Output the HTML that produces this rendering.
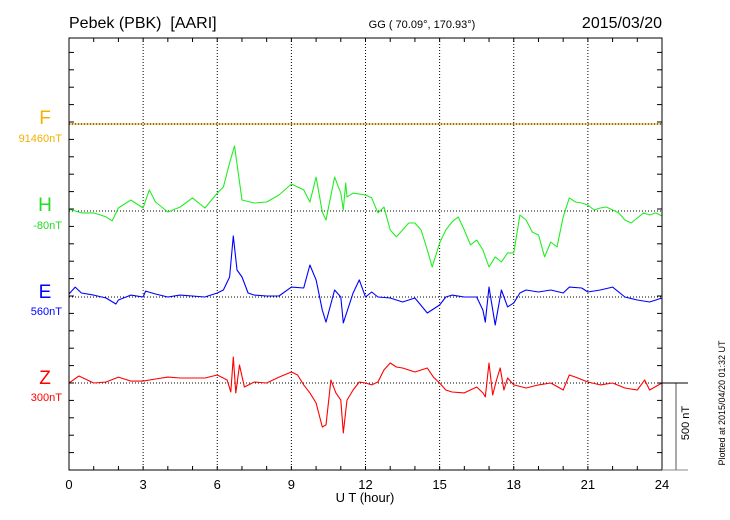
<!DOCTYPE html>
<html><head><meta charset="utf-8"><style>
body{margin:0;background:#fff;}
svg{display:block;font-family:"Liberation Sans",sans-serif;}
</style></head><body>
<svg id="chart" width="730" height="520" viewBox="0 0 730 520" xmlns="http://www.w3.org/2000/svg">
<text x="69" y="28" font-size="16" style="white-space:pre">Pebek (PBK)  [AARI]</text>
<text x="422" y="28" font-size="11" text-anchor="middle">GG ( 70.09°, 170.93°)</text>
<text x="662" y="28" font-size="16" text-anchor="end">2015/03/20</text>
<g id="grid"></g>
<g id="series"></g>
<rect x="69" y="38" width="593" height="432" fill="none" stroke="#000" stroke-width="1"/>
<g id="ticks"></g>
<text x="365" y="502" font-size="13" text-anchor="middle">U T (hour)</text>
<line x1="676" y1="383" x2="676" y2="470" stroke="#555"/>
<line x1="662" y1="383" x2="688" y2="383" stroke="#000"/>
<line x1="662" y1="470" x2="688" y2="470" stroke="#888"/>
<text x="693" y="427" font-size="11" text-anchor="middle" transform="rotate(-90 689 427)">500 nT</text>
<text x="725" y="403" font-size="9" text-anchor="middle" transform="rotate(-90 725 403)">Plotted at 2015/04/20 01:32 UT</text>
<text x="45" y="124" font-size="19" fill="#f5b000" text-anchor="middle">F</text>
<text x="62" y="142" font-size="11" fill="#f5b000" text-anchor="end">91460nT</text>
<text x="45" y="211" font-size="19" fill="#22dd22" text-anchor="middle">H</text>
<text x="62" y="229" font-size="11" fill="#22dd22" text-anchor="end">-80nT</text>
<text x="45" y="298" font-size="19" fill="#0000ff" text-anchor="middle">E</text>
<text x="62" y="315" font-size="11" fill="#0000ff" text-anchor="end">560nT</text>
<text x="45" y="384" font-size="19" fill="#ff0000" text-anchor="middle">Z</text>
<text x="62" y="401" font-size="11" fill="#ff0000" text-anchor="end">300nT</text>
</svg>
<script>
const xTickLabels = ["0","3","6","9","12","15","18","21","24"];
const hHours = [0,0.5,1,1.5,1.75,2,2.5,3,3.25,3.5,4,4.5,5,5.5,6,6.25,6.5,6.7,7,7.5,8,8.5,9,9.5,9.75,10,10.25,10.4,10.75,11,11.1,11.2,11.25,11.5,12,12.25,12.5,12.75,13,13.25,13.5,13.75,14,14.25,14.5,14.7,15,15.25,15.5,15.75,16,16.25,16.5,16.75,17,17.25,17.5,17.75,18,18.25,18.5,18.75,19,19.25,19.5,19.75,20,20.25,20.5,20.75,21,21.25,21.5,21.75,22,22.25,22.5,22.75,23,23.25,23.5,23.75,24];
const hValues = [11,-11,-11,-34,-57,17,63,17,121,52,-6,23,75,17,103,138,276,374,63,46,52,92,155,121,52,195,-6,-52,195,103,6,161,80,103,92,75,-11,23,-109,-149,-109,-69,-69,-109,-224,-322,-184,-109,-63,-34,-109,-195,-167,-224,-322,-264,-293,-241,-241,-23,-52,-121,-138,-264,-178,-207,-34,75,52,46,34,6,17,23,6,-11,-52,-69,-40,-11,-23,-11,-29];
const eHours = [0,0.25,0.5,1,1.5,1.9,2,2.5,3,3.1,3.5,4,4.5,5,5.5,6,6.25,6.5,6.65,6.8,7,7.25,7.5,8,8.5,9,9.5,9.75,10,10.25,10.4,10.75,11,11.1,11.5,11.75,12,12.25,12.5,13,13.5,14,14.5,15,15.25,15.5,16,16.5,16.75,16.85,17,17.25,17.5,17.75,18,18.25,18.5,19,19.5,20,20.25,20.75,21,21.5,22,22.5,23,23.5,24];
const eValues = [17,57,23,11,-6,-40,-17,11,0,34,17,0,11,6,0,23,40,115,351,155,115,23,11,6,6,57,52,184,98,-75,-144,40,0,-149,23,98,0,29,0,-6,-29,-6,-92,-46,0,11,0,0,-75,-144,57,-161,40,-57,-34,23,40,29,40,23,57,52,29,40,57,0,-17,-29,-6];
const zHours = [0,0.4,1,1.5,2,2.5,3,3.5,4,4.5,5,5.5,6,6.4,6.55,6.65,6.75,6.9,7.1,7.5,8,8.5,9,9.25,9.5,9.75,10,10.25,10.4,10.6,10.8,11,11.1,11.25,11.5,11.75,12,12.25,12.5,12.75,13,13.25,13.5,14,14.5,14.75,15,15.25,15.5,16,16.5,16.75,16.85,17,17.15,17.3,17.45,17.6,17.75,18,18.5,19,19.5,20,20.25,20.5,21,21.5,22,22.5,23,23.3,23.5,24];
const zValues = [0,40,0,6,34,11,11,23,34,29,29,29,46,17,-52,149,-57,103,-23,6,0,34,63,46,-11,-57,-115,-253,-241,17,-57,-98,-287,-98,-40,6,0,-11,6,75,115,92,86,63,86,34,0,-40,-52,-57,-23,-57,-80,115,-69,17,86,-40,29,-11,-29,-11,0,-40,46,34,6,-11,0,-29,-40,17,-40,0];

const NS="http://www.w3.org/2000/svg";
const L=69,R=662,T=38,B=470;
const xScale=h=>L+(R-L)*h/24;
const pxPerNT=87/500;
const yScale=(base,v)=>base-v*pxPerNT;
function mk(tag,attrs,parent){const e=document.createElementNS(NS,tag);for(const k in attrs)e.setAttribute(k,attrs[k]);parent.appendChild(e);return e;}
const grid=document.getElementById('grid'),ticks=document.getElementById('ticks'),series=document.getElementById('series'),svg=document.getElementById('chart');
let fl=mk('line',{x1:L,y1:124,x2:R,y2:124,stroke:'#f8c040','stroke-width':1.5},grid);


xTickLabels.forEach((lab,i)=>{
  const h=+lab,x=xScale(h);
  if(i>0&&i<xTickLabels.length-1){
    const g=mk('line',{x1:x,y1:T,x2:x,y2:B,stroke:'#000','stroke-dasharray':'1,2','stroke-width':1},grid);
    
    
  }
  const t=mk('text',{x:x,y:489,'font-size':13,'text-anchor':'middle'},svg);
  t.textContent=lab;
  
  
});
[124,211,297,383].forEach(y=>{
  const g=mk('line',{x1:L,y1:y,x2:R,y2:y,stroke:'#000','stroke-dasharray':'1,2','stroke-width':1},grid);
  
  
});
for(let h=1;h<24;h++){
  const x=xScale(h);
  const a=mk('line',{x1:x,y1:T,x2:x,y2:T+4,stroke:'#000'},ticks);
  
  
  const b=mk('line',{x1:x,y1:B,x2:x,y2:B-4,stroke:'#000'},ticks);
  
  
}
for(let k=1;k<25;k++){
  const y=B-k*100*pxPerNT;
  if(y<=T+1)break;
  const a=mk('line',{x1:L,y1:y,x2:L+5,y2:y,stroke:'#000'},ticks);
  
  
  const b=mk('line',{x1:R,y1:y,x2:R-5,y2:y,stroke:'#000'},ticks);
  
  
}
function trace(hours,vals,base,color,name){
  const d=hours.map((h,i)=>(i?'L':'M')+xScale(h).toFixed(1)+','+yScale(base,vals[i]).toFixed(1)).join(' ');
  const p=mk('path',{d:d,fill:'none',stroke:color,'stroke-width':1.1,'stroke-linejoin':'round'},series);
  
  
}
trace(hHours,hValues,211,'#22ee22','h-trace');
trace(eHours,eValues,297,'#0000ff','e-trace');
trace(zHours,zValues,383,'#ff0000','z-trace');
</script>
</body></html>
